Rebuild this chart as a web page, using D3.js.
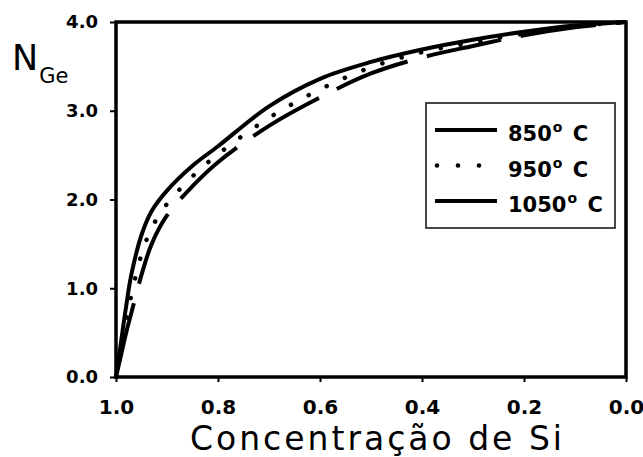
<!DOCTYPE html>
<html>
<head>
<meta charset="utf-8">
<script src="https://cdn.jsdelivr.net/npm/d3@7"></script>
<style>
  body { margin: 0; background: #fff; }
  svg { display: block; }
</style>
</head>
<body>
<div id="chart"></div>
<script>
// Si fraction (x, reversed) and N_Ge for each anneal temperature
var si      = [1.0, 0.99, 0.98, 0.97, 0.95, 0.93, 0.9, 0.85, 0.8, 0.7, 0.6, 0.5, 0.4, 0.3, 0.2, 0.1, 0.0];
var n850    = [0, 0.4, 0.8, 1.15, 1.6, 1.87, 2.1, 2.38, 2.6, 3.05, 3.36, 3.55, 3.69, 3.80, 3.89, 3.96, 4.0];
var n950    = [0, 0.3, 0.62, 0.92, 1.38, 1.68, 1.95, 2.26, 2.51, 2.92, 3.24, 3.49, 3.66, 3.77, 3.87, 3.95, 4.0];
var n1050   = [0, 0.25, 0.5, 0.72, 1.15, 1.5, 1.82, 2.15, 2.42, 2.83, 3.15, 3.42, 3.6, 3.73, 3.85, 3.94, 4.0];
var seriesNames = ["850", "950", "1050"];
var xTicks = [1.0, 0.8, 0.6, 0.4, 0.2, 0.0];
var yTicks = [0, 1, 2, 3, 4];

var width = 643, height = 457;
var svg = d3.select("#chart").append("svg")
    .attr("width", width).attr("height", height);

var x = d3.scaleLinear().domain([1, 0]).range([116, 626]);
var y = d3.scaleLinear().domain([0, 4]).range([377, 22]);

var boldFont = "'DejaVu Sans', sans-serif";

// axes (ticks + labels only, frame drawn below)
var yAxis = svg.append("g")
    .attr("transform", "translate(" + x(1) + ",0)")
    .call(d3.axisLeft(y).tickValues(yTicks).tickSize(6).tickPadding(12).tickFormat(d3.format(".1f")));
yAxis.select(".domain").remove();
yAxis.selectAll("line").attr("stroke", "#000").attr("stroke-width", 2);
yAxis.selectAll("text")
    .attr("font-family", boldFont).attr("font-weight", "bold")
    .attr("font-size", 18).attr("fill", "#000");

var xAxis = svg.append("g")
    .attr("transform", "translate(0," + y(0) + ")")
    .call(d3.axisBottom(x).tickValues(xTicks).tickSize(5).tickPadding(18).tickFormat(d3.format(".1f")));
xAxis.select(".domain").remove();
xAxis.selectAll("line").attr("stroke", "#000").attr("stroke-width", 2);
xAxis.selectAll("text")
    .attr("font-family", boldFont).attr("font-weight", "bold")
    .attr("font-size", 20).attr("fill", "#000");

// curves
var line = d3.line()
    .x(function(d) { return x(d[0]); })
    .y(function(d) { return y(d[1]); })
    .curve(d3.curveCatmullRom.alpha(0.5));

var curves = svg.append("g").attr("fill", "none").attr("stroke", "#000");

curves.append("path")
    .attr("d", line(d3.zip(si, n1050)))
    .attr("stroke-width", 4)
    .attr("stroke-dasharray", "76,20");

curves.append("path")
    .attr("d", line(d3.zip(si, n950)))
    .attr("stroke-width", 4.5)
    .attr("stroke-linecap", "round")
    .attr("stroke-dasharray", "0.1,20");

curves.append("path")
    .attr("d", line(d3.zip(si, n850)))
    .attr("stroke-width", 4);

// plot frame
svg.append("rect")
    .attr("x", x(1)).attr("y", y(4))
    .attr("width", x(0) - x(1)).attr("height", y(0) - y(4))
    .attr("fill", "none").attr("stroke", "#000").attr("stroke-width", 3.5);

// legend
var legend = svg.append("g");
legend.append("rect")
    .attr("x", 426).attr("y", 103).attr("width", 189).attr("height", 125)
    .attr("fill", "#fff").attr("stroke", "#333").attr("stroke-width", 1.8);

var rowY = [130, 165.5, 201];
seriesNames.forEach(function(name, i) {
    var ly = rowY[i];
    if (i == 1) {
        legend.selectAll(".dot").data([437, 458, 479]).enter().append("circle")
            .attr("cx", function(d) { return d; }).attr("cy", ly).attr("r", 2.3).attr("fill", "#000");
    } else {
        legend.append("line")
            .attr("x1", 435).attr("x2", 497).attr("y1", ly).attr("y2", ly)
            .attr("stroke", "#000").attr("stroke-width", 4);
    }
    var t = legend.append("text")
        .attr("x", 508).attr("y", ly + 11)
        .attr("font-family", boldFont).attr("font-weight", "bold")
        .attr("font-size", 21).attr("fill", "#000");
    t.append("tspan").text(name);
    t.append("tspan").attr("font-size", 14).attr("dy", -9).attr("dx", 1).text("o");
    t.append("tspan").attr("dy", 9).attr("dx", 3).text(" C");
});

// axis titles
var yl = svg.append("text")
    .attr("x", 12).attr("y", 70)
    .attr("font-family", "'DejaVu Sans', sans-serif")
    .attr("font-size", 35).attr("fill", "#000");
yl.append("tspan").text("N");
yl.append("tspan").attr("font-size", 21).attr("dy", 13).attr("dx", 1).text("Ge");

svg.append("text")
    .attr("x", 376).attr("y", 450)
    .attr("text-anchor", "middle")
    .attr("font-family", "'DejaVu Sans', sans-serif")
    .attr("font-size", 33).attr("fill", "#000")
    .attr("textLength", 372).attr("lengthAdjust", "spacing")
    .text("Concentração de Si");
</script>
</body>
</html>
